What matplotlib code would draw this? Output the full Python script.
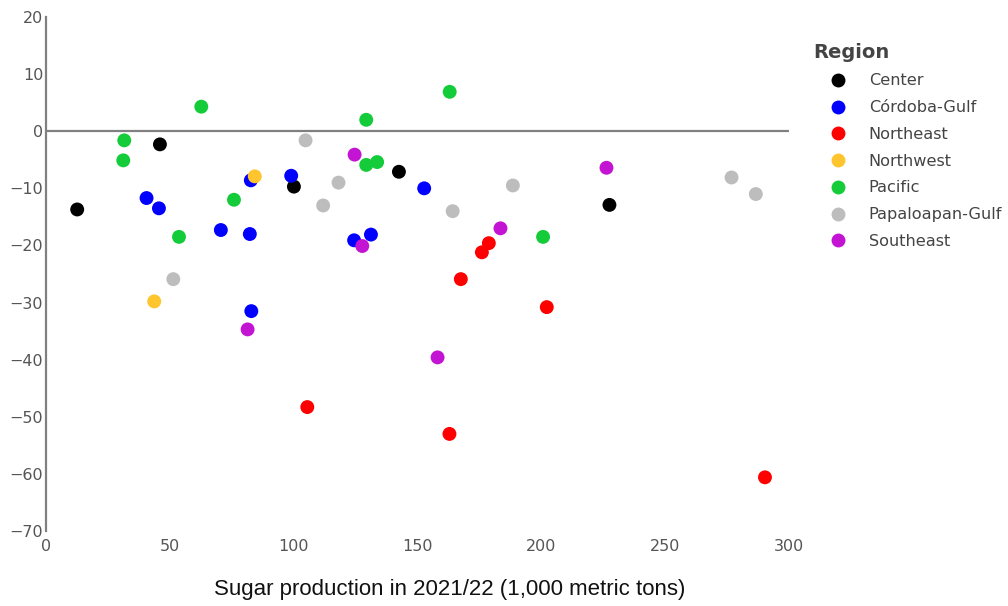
import matplotlib
matplotlib.use("Agg")
import matplotlib.pyplot as plt
from matplotlib.lines import Line2D

# Datos: producción (x) y variación % (y) por región
regions = ["Center", "Córdoba-Gulf", "Northeast", "Northwest",
           "Pacific", "Papaloapan-Gulf", "Southeast"]
colors = ["#000000", "#0000FF", "#FF0000", "#FFC52E",
          "#14CC3A", "#BDBDBD", "#C214D2"]

center_x = [12.6, 46.0, 100.1, 142.5, 227.5]
center_y = [-13.7, -2.3, -9.7, -7.1, -12.9]

cordoba_x = [40.6, 45.6, 70.6, 82.3, 82.7, 99.0, 82.9, 124.4, 131.2, 152.7]
cordoba_y = [-11.7, -13.5, -17.3, -18.0, -8.6, -7.8, -31.5, -19.1, -18.1, -10.0]

northeast_x = [105.5, 162.9, 167.5, 176.0, 178.8, 202.2, 290.3]
northeast_y = [-48.3, -53.0, -25.9, -21.2, -19.6, -30.8, -60.6]

northwest_x = [43.7, 84.3]
northwest_y = [-29.8, -7.9]

pacific_x = [31.6, 31.2, 53.7, 62.7, 75.9, 129.3, 129.3, 133.7, 163.0, 200.7]
pacific_y = [-1.6, -5.1, -18.5, 4.3, -12.0, 2.0, -5.9, -5.4, 6.9, -18.5]

papaloapan_x = [51.4, 104.8, 111.9, 118.1, 164.2, 188.5, 276.8, 286.6]
papaloapan_y = [-25.9, -1.6, -13.0, -9.0, -14.0, -9.5, -8.1, -11.0]

southeast_x = [81.4, 124.6, 127.7, 158.1, 183.5, 226.3]
southeast_y = [-34.7, -4.1, -20.1, -39.6, -17.0, -6.4]

xs = [center_x, cordoba_x, northeast_x, northwest_x, pacific_x, papaloapan_x, southeast_x]
ys = [center_y, cordoba_y, northeast_y, northwest_y, pacific_y, papaloapan_y, southeast_y]

xticks = [0, 50, 100, 150, 200, 250, 300]
yticks = [20, 10, 0, -10, -20, -30, -40, -50, -60, -70]

W, H = 1008, 606
fig = plt.figure(figsize=(W / 100, H / 100), dpi=100)
ax = fig.add_axes([46 / W, 75 / H, 743 / W, 514 / H])

for xv, yv, c in zip(xs, ys, colors):
    ax.scatter(xv, yv, s=100, color=c, edgecolors="none", zorder=3)

ax.axhline(0, color="#808080", lw=1.6, zorder=1)

ax.set_xlim(0, 300)
ax.set_ylim(-70, 20)
ax.set_xticks(xticks)
ax.set_yticks(yticks)
ax.set_yticklabels([str(t).replace("-", "\u2212") for t in yticks])

for s in ["top", "right", "bottom"]:
    ax.spines[s].set_visible(False)
ax.spines["left"].set_color("#808080")
ax.spines["left"].set_linewidth(1.6)
ax.tick_params(length=0, labelsize=11.5, labelcolor="#555555", pad=2)
ax.tick_params(axis="x", pad=6)

# Título del eje x
fig.text(450 / W, 1 - 590 / H, "Sugar production in 2021/22 (1,000 metric tons)",
         family="Liberation Sans", fontsize=16, color="#111111",
         ha="center", va="center")

# Leyenda
fig.text(813 / W, 1 - 52 / H, "Region", fontsize=14, fontweight="bold",
         color="#444444", ha="left", va="center")
handles = [Line2D([], [], ls="none", marker="o", markersize=10,
                  markerfacecolor=c, markeredgecolor="none") for c in colors]
leg = fig.legend(handles, regions, loc="upper left",
                 bbox_to_anchor=(815.6 / W, 1 - 67 / H), borderaxespad=0,
                 frameon=False, fontsize=11.6, labelspacing=0.73,
                 handletextpad=0.9)
for t in leg.get_texts():
    t.set_color("#444444")

fig.savefig("out.png", dpi=100)
